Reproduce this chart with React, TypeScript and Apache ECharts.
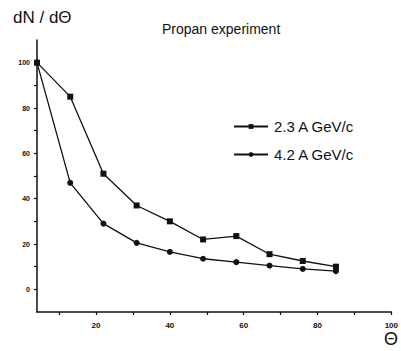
import React, { useEffect, useRef } from "react";
import * as echarts from "echarts";

// Emission angle (degrees) at which dN/dΘ was measured
const theta = [4, 13, 22, 31, 40, 49, 58, 67, 76, 85];
// Normalised distributions for the two beam momenta
const seriesLow = [100, 85, 51, 37, 30, 22, 23.5, 15.5, 12.5, 10];
const seriesHigh = [100, 47, 29, 20.5, 16.5, 13.5, 12, 10.5, 9, 8];
const seriesNames = ["2.3 A GeV/c", "4.2 A GeV/c"];

const xLabels = [20, 40, 60, 80, 100];
const xTicks = [10, 20, 30, 40, 50, 60, 70, 80, 90, 100];
const yLabels = [0, 20, 40, 60, 80, 100];
const yTicks = [0, 10, 20, 30, 40, 50, 60, 70, 80, 90, 100];

const INK = "#111";
const FONT = "Liberation Sans, Arial, sans-serif";

export default function App() {
  const ref = useRef<HTMLDivElement>(null);

  useEffect(() => {
    if (!ref.current) return;
    const chart = echarts.init(ref.current, null, { renderer: "svg" });
    const pairs = (ys: number[]) => theta.map((t, i) => [t, ys[i]]);

    chart.setOption({
      animation: false,
      backgroundColor: "#fff",
      title: {
        text: "Propan experiment",
        left: 157,
        top: 17,
        textStyle: { fontFamily: FONT, fontSize: 14, fontWeight: "normal", color: INK },
      },
      legend: {
        orient: "vertical",
        left: 228,
        top: 114,
        itemWidth: 34,
        itemHeight: 6,
        itemGap: 13,
        textStyle: { fontFamily: FONT, fontSize: 15, color: INK, padding: [0, 0, 0, 1] },
        data: seriesNames,
      },
      graphic: [
        {
          type: "text",
          left: 13,
          top: 9,
          style: { text: "dN / dΘ", font: `17px ${FONT}`, fill: INK },
        },
        {
          type: "text",
          left: 384,
          top: 330,
          style: { text: "Θ", font: `18px ${FONT}`, fill: INK },
        },
      ],
      grid: { left: 37, right: 9, top: 40, bottom: 39 },
      xAxis: {
        type: "value",
        min: 4,
        max: 100,
        axisLine: { onZero: false, lineStyle: { color: INK, width: 1.5 } },
        axisTick: { customValues: xTicks, length: 3, lineStyle: { color: INK, width: 1.2 } },
        axisLabel: {
          customValues: xLabels,
          margin: 9,
          fontSize: 8,
          fontWeight: "bold",
          fontFamily: FONT,
          color: INK,
        },
        splitLine: { show: false },
      },
      yAxis: {
        type: "value",
        min: -10,
        max: 110,
        axisLine: { show: true, onZero: false, lineStyle: { color: INK, width: 1.5 } },
        axisTick: { show: true, customValues: yTicks, length: 3, lineStyle: { color: INK, width: 1.2 } },
        axisLabel: {
          customValues: yLabels,
          margin: 7,
          fontSize: 7,
          fontWeight: "bold",
          fontFamily: FONT,
          color: INK,
        },
        splitLine: { show: false },
      },
      series: [
        {
          name: seriesNames[0],
          type: "line",
          data: pairs(seriesLow),
          symbol: "rect",
          symbolSize: 6,
          lineStyle: { color: INK, width: 1.3 },
          itemStyle: { color: INK },
        },
        {
          name: seriesNames[1],
          type: "line",
          data: pairs(seriesHigh),
          symbol: "circle",
          symbolSize: 6,
          lineStyle: { color: INK, width: 1.3 },
          itemStyle: { color: INK },
        },
      ],
    });

    return () => chart.dispose();
  }, []);

  return <div ref={ref} style={{ width: 401, height: 351, position: "absolute", left: 0, top: 0 }} />;
}
